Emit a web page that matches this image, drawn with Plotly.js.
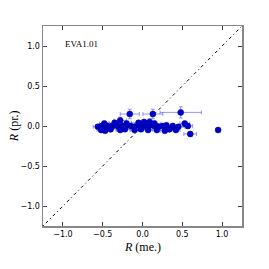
<!DOCTYPE html>
<html><head><meta charset="utf-8">
<script src="https://cdn.plot.ly/plotly-3.0.1.min.js"></script>
<style>html,body{margin:0;padding:0;background:#fff}#c{width:269px;height:269px}</style>
</head><body><div id="c"></div>
<script>
const xMeasured = [-0.56,-0.51,-0.46,-0.42,-0.38,-0.33,-0.30,-0.25,-0.20,-0.15,-0.10,-0.05,0.00,0.05,0.10,0.15,0.20,0.25,0.30,0.38,0.45,
  -0.52,-0.47,-0.40,-0.28,-0.22,-0.10,-0.02,0.07,0.18,0.28,0.34,0.42,
  -0.48,-0.35,-0.28,-0.20,-0.05,0.02,0.09,0.15,
  -0.16,0.13,0.48,0.53,0.57,0.60,0.95];
const yPredicted = [-0.01,0.00,0.01,-0.01,0.00,0.01,-0.01,0.00,0.01,0.00,-0.01,0.01,0.00,-0.01,0.01,0.00,-0.01,0.00,0.01,0.00,-0.01,
  -0.05,-0.06,-0.04,-0.05,-0.04,-0.05,-0.04,-0.05,-0.05,-0.06,-0.04,-0.05,
  0.03,0.04,0.07,0.03,0.04,0.05,0.05,0.03,
  0.15,0.15,0.17,0.03,0.00,-0.10,-0.05];
const xErr = [0.06,0.08,0.05,0.07,0.06,0.10,0.05,0.08,0.07,0.06,0.09,0.05,0.07,0.06,0.10,0.08,0.07,0.06,0.09,0.10,0.08,
  0.05,0.06,0.07,0.05,0.06,0.05,0.07,0.06,0.08,0.06,0.07,0.05,
  0.06,0.07,0.08,0.06,0.09,0.06,0.07,0.08,
  0.12,0.125,0.26,0.06,0.06,0.08,0.0];
const yErr = [0.02,0.03,0.02,0.02,0.03,0.02,0.02,0.03,0.02,0.02,0.03,0.02,0.02,0.03,0.02,0.02,0.03,0.02,0.02,0.03,0.02,
  0.02,0.02,0.03,0.02,0.02,0.02,0.03,0.02,0.02,0.02,0.03,0.02,
  0.03,0.03,0.04,0.03,0.03,0.03,0.04,0.03,
  0.06,0.06,0.07,0.03,0.03,0.03,0.0];
const diagX = [-1.25,1.25];
const diagY = [-1.25,1.25];
const label = "EVA1.01";
const xTitle = "<i>R</i> (me.)";
const yTitle = "<i>R</i> (pr.)";

const traces = [
  {x: diagX, y: diagY, mode:'lines', line:{color:'#000', width:1, dash:'1px,3px,3px,3px'}, hoverinfo:'skip'},
  {x: xMeasured, y: yPredicted, mode:'markers', type:'scatter',
   marker:{color:'#0000cc', size:6, line:{width:0.5,color:'#000080'}},
   error_x:{type:'data', array:xErr, visible:true, color:'rgba(80,80,255,0.6)', thickness:1, width:2},
   error_y:{type:'data', array:yErr, visible:true, color:'rgba(80,80,255,0.6)', thickness:1, width:2}}
];
const axisCommon = {range:[-1.25,1.25], dtick:0.5, tick0:0, ticks:'inside', ticklen:4, tickcolor:'#444',
  showline:true, linecolor:'#888', linewidth:1.5, mirror:'ticks', showgrid:false, zeroline:false,
  tickfont:{family:'DejaVu Sans', size:8, color:'#000'}, tickformat:'.1f', automargin:false};
const titleFont = {family:'Liberation Serif', size:12, color:'#000'};
const layout = {
  width:269, height:269, margin:{l:43, r:27, t:26, b:43},
  paper_bgcolor:'#fff', plot_bgcolor:'#fff', showlegend:false,
  xaxis: Object.assign({}, axisCommon),
  yaxis: Object.assign({}, axisCommon),
  annotations:[
    {x:-1.0, y:1.02, xref:'x', yref:'y', text:label, showarrow:false, xanchor:'left', yanchor:'middle',
     font:{family:'Liberation Serif', size:9, color:'#000'}},
    {x:0.5, y:-0.105, xref:'paper', yref:'paper', text:xTitle, showarrow:false, xanchor:'center', yanchor:'middle', font:titleFont},
    {x:-0.145, y:0.5, xref:'paper', yref:'paper', text:yTitle, showarrow:false, textangle:-90, xanchor:'center', yanchor:'middle', font:titleFont}
  ]
};
Plotly.newPlot('c', traces, layout, {staticPlot:true});
</script></body></html>
